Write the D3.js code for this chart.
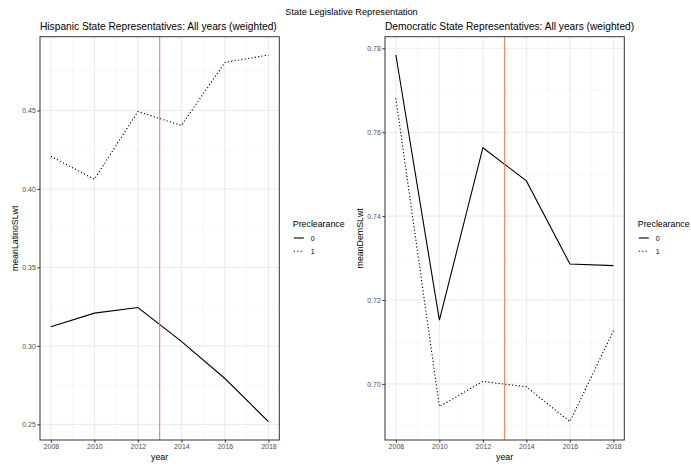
<!DOCTYPE html>
<html>
<head>
<meta charset="utf-8">
<script src="https://cdn.jsdelivr.net/npm/d3@7"></script>
<style>
  body { margin: 0; background: #fff; }
  svg { display: block; font-family: "Liberation Sans", Arial, Helvetica, sans-serif; }
</style>
</head>
<body>
<svg id="chart" width="691" height="466"></svg>
<script>
// Year axis shared by both panels
const years = [2008, 2010, 2012, 2014, 2016, 2018];
const yearTicks = [2008, 2010, 2012, 2014, 2016, 2018];
const cutoffYear = 2013;

// Mean Hispanic share of state legislators, by preclearance status
const latinoPre0 = [0.3122, 0.3209, 0.3245, 0.3029, 0.2792, 0.2517];
const latinoPre1 = [0.4208, 0.4062, 0.4494, 0.4405, 0.4807, 0.4854];
const latinoTicks = [0.25, 0.30, 0.35, 0.40, 0.45];

// Mean Democratic share of state legislators, by preclearance status
const demPre0 = [0.7784, 0.7152, 0.7563, 0.7484, 0.7286, 0.7282];
const demPre1 = [0.7681, 0.6946, 0.7006, 0.6993, 0.6910, 0.7127];
const demTicks = [0.70, 0.72, 0.74, 0.76, 0.78];

const legendLevels = ["0", "1"];

const svg = d3.select("#chart");

svg.append("text")
  .attr("x", 351.5).attr("y", 15)
  .attr("text-anchor", "middle")
  .attr("font-size", 9.2)
  .attr("fill", "#000")
  .text("State Legislative Representation");

function panel(opts) {
  const g = svg.append("g");
  const left = opts.left, right = opts.right, top = 36.7, bottom = 440;

  const x = d3.scaleLinear().domain([2007.5, 2018.5]).range([left, right]);
  const vals = opts.series.flat();
  const lo = d3.min(vals), hi = d3.max(vals), pad = (hi - lo) * 0.05;
  const y = d3.scaleLinear().domain([lo - pad, hi + pad]).range([bottom, top]);

  // minor gridlines
  const minorX = d3.range(2009, 2018, 2);
  const step = opts.ticks[1] - opts.ticks[0];
  const minorY = [opts.ticks[0] - step / 2].concat(opts.ticks.map(t => t + step / 2))
    .filter(v => v > y.domain()[0] && v < y.domain()[1]);

  g.selectAll(".mx").data(minorX).join("line")
    .attr("x1", d => x(d)).attr("x2", d => x(d))
    .attr("y1", top).attr("y2", bottom)
    .attr("stroke", "#f2f2f2").attr("stroke-width", 0.6);
  g.selectAll(".my").data(minorY).join("line")
    .attr("x1", left).attr("x2", right)
    .attr("y1", d => y(d)).attr("y2", d => y(d))
    .attr("stroke", "#f2f2f2").attr("stroke-width", 0.6);

  // major gridlines
  g.selectAll(".gx").data(yearTicks).join("line")
    .attr("x1", d => x(d)).attr("x2", d => x(d))
    .attr("y1", top).attr("y2", bottom)
    .attr("stroke", "#ebebeb").attr("stroke-width", 1.1);
  g.selectAll(".gy").data(opts.ticks).join("line")
    .attr("x1", left).attr("x2", right)
    .attr("y1", d => y(d)).attr("y2", d => y(d))
    .attr("stroke", "#ebebeb").attr("stroke-width", 1.1);

  // data lines
  const line = d3.line().x((d, i) => x(years[i])).y(d => y(d));
  g.append("path").datum(opts.series[0]).attr("d", line)
    .attr("fill", "none").attr("stroke", "#000").attr("stroke-width", 1.1);
  g.append("path").datum(opts.series[1]).attr("d", line)
    .attr("fill", "none").attr("stroke", "#000").attr("stroke-width", 1.1)
    .attr("stroke-dasharray", "1.2,2.2");

  // reference line at the cutoff year
  g.append("line")
    .attr("x1", x(cutoffYear)).attr("x2", x(cutoffYear))
    .attr("y1", top).attr("y2", bottom)
    .attr("stroke", "#f47f5c").attr("stroke-width", 1.1);

  // panel border
  g.append("rect")
    .attr("x", left).attr("y", top)
    .attr("width", right - left).attr("height", bottom - top)
    .attr("fill", "none").attr("stroke", "#333").attr("stroke-width", 1);

  // axes
  const xAxis = g.append("g").attr("transform", `translate(0,${bottom})`)
    .call(d3.axisBottom(x).tickValues(yearTicks).tickFormat(d3.format("d")).tickSize(2.7).tickPadding(1.5));
  const yAxis = g.append("g").attr("transform", `translate(${left},0)`)
    .call(d3.axisLeft(y).tickValues(opts.ticks).tickFormat(d3.format(".2f")).tickSize(2.7).tickPadding(1.5));
  [xAxis, yAxis].forEach(a => {
    a.select(".domain").remove();
    a.selectAll(".tick line").attr("stroke", "#333").attr("stroke-width", 1);
    a.selectAll(".tick text").attr("fill", "#4d4d4d").attr("font-size", 7)
      .attr("font-family", "Liberation Sans, Arial, sans-serif");
  });

  // titles
  g.append("text").attr("x", left).attr("y", 29.5)
    .attr("font-size", 10.2).attr("fill", "#000").text(opts.title);
  g.append("text").attr("x", (left + right) / 2).attr("y", 460)
    .attr("text-anchor", "middle").attr("font-size", 8.8).attr("fill", "#000").text("year");
  g.append("text")
    .attr("transform", `translate(${left - 22},${(top + bottom) / 2}) rotate(-90)`)
    .attr("text-anchor", "middle").attr("font-size", 8.8).attr("fill", "#000").text(opts.ylab);

  // legend
  const lx = right + 13.5;
  g.append("text").attr("x", lx).attr("y", 226.5)
    .attr("font-size", 8.8).attr("fill", "#000").text("Preclearance");
  const items = g.selectAll(".leg").data(legendLevels).join("g")
    .attr("transform", (d, i) => `translate(${lx},${238 + i * 13.3})`);
  items.append("line").attr("x1", 1).attr("x2", 11).attr("y1", 0).attr("y2", 0)
    .attr("stroke", "#000").attr("stroke-width", 1.1)
    .attr("stroke-dasharray", (d, i) => i === 1 ? "1.2,2.2" : null);
  items.append("text").attr("x", 18).attr("y", 2.5)
    .attr("font-size", 7).attr("fill", "#000").text(d => d);
}

panel({
  left: 40, right: 279.3,
  series: [latinoPre0, latinoPre1], ticks: latinoTicks,
  title: "Hispanic State Representatives: All years (weighted)",
  ylab: "meanLatinoSLwt"
});
panel({
  left: 385, right: 624.3,
  series: [demPre0, demPre1], ticks: demTicks,
  title: "Democratic State Representatives: All years (weighted)",
  ylab: "meanDemSLwt"
});
</script>
</body>
</html>
